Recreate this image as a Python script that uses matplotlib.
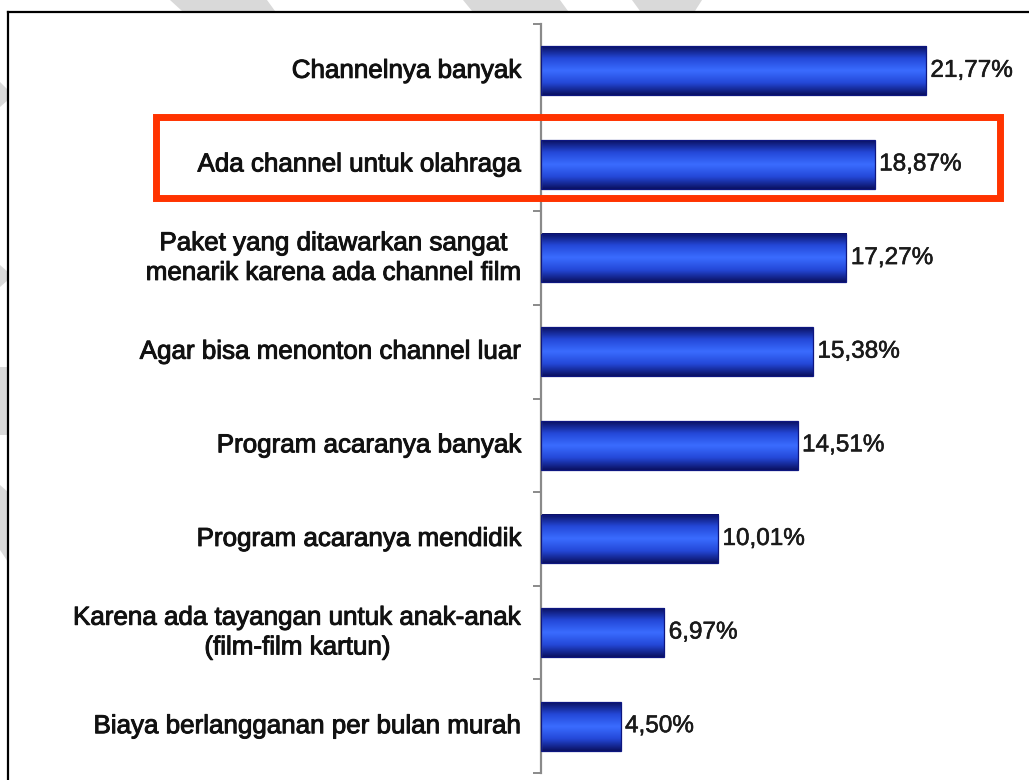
import matplotlib
matplotlib.use("Agg")
import matplotlib.pyplot as plt
import numpy as np
from matplotlib.colors import LinearSegmentedColormap
from matplotlib.patches import Rectangle, Polygon
from matplotlib.lines import Line2D
import matplotlib.patheffects as pe

categories = [
    "Channelnya banyak",
    "Ada channel untuk olahraga",
    "Paket yang ditawarkan sangat\nmenarik karena ada channel film",
    "Agar bisa menonton channel luar",
    "Program acaranya banyak",
    "Program acaranya mendidik",
    "Karena ada tayangan untuk anak-anak\n(film-film kartun)",
    "Biaya berlangganan per bulan murah",
]
values = [21.77, 18.87, 17.27, 15.38, 14.51, 10.01, 6.97, 4.50]
value_labels = ["21,77%", "18,87%", "17,27%", "15,38%", "14,51%", "10,01%", "6,97%", "4,50%"]
highlight_index = 1

W, H = 1029, 780
fig = plt.figure(figsize=(W / 100, H / 100), dpi=100)
fig.patch.set_facecolor("white")

def fx(px):
    return px / W

def fy(py):
    return 1 - py / H

# light grey watermark fragments
grey = "#d9d9d9"
wm_polys = [
    [(170, 0), (267, 0), (275, 11), (182, 11)],
    [(463, 0), (560, 0), (568, 11), (472, 11)],
    [(632, 0), (702, 0), (695, 11), (640, 11)],
    [(0, 82), (8, 90), (8, 100), (0, 107)],
    [(0, 265), (8, 272), (8, 280), (0, 287)],
    [(0, 367), (8, 367), (8, 435), (0, 435)],
    [(0, 485), (8, 492), (8, 562), (0, 550)],
]
for poly in wm_polys:
    fig.patches.append(Polygon([(fx(x), fy(y)) for x, y in poly], closed=True,
                               transform=fig.transFigure, facecolor=grey,
                               edgecolor="none", zorder=0))

# black frame (top and left)
fig.lines.append(Line2D([fx(8), fx(8)], [fy(12), 0], transform=fig.transFigure,
                        color="black", lw=1.6, zorder=1))
fig.lines.append(Line2D([fx(8), 1], [fy(12), fy(12)], transform=fig.transFigure,
                        color="black", lw=1.6, zorder=1))

ax_left, ax_top, ax_bottom, ax_right = 541, 24, 773, 1018
ax = fig.add_axes([fx(ax_left), fy(ax_bottom), fx(ax_right - ax_left),
                   (ax_bottom - ax_top) / H])
ax.set_facecolor("none")

n = len(categories)
xmax = (ax_right - ax_left) / 17.685

cmap = LinearSegmentedColormap.from_list(
    "bar", [(0.0, "#0a1060"), (0.25, "#2448d8"), (0.5, "#3a6cff"),
            (0.75, "#2448d8"), (1.0, "#0a1060")])
grad = np.linspace(0, 1, 256).reshape(-1, 1)
bh = 0.52
for i, v in enumerate(values):
    ax.imshow(grad, cmap=cmap, aspect="auto", interpolation="bicubic",
              extent=(0, v, i + bh / 2, i - bh / 2), zorder=2)
    ax.add_patch(Rectangle((0, i - bh / 2), v, bh, facecolor="none",
                           edgecolor="#0d1680", lw=0.9, zorder=3))
    t = ax.text(v + 0.25, i, value_labels[i], va="center", ha="left",
                fontsize=17.5, family="Liberation Sans", color="#1a1a1a", zorder=4)
    t.set_path_effects([pe.withStroke(linewidth=0.4, foreground="#1a1a1a")])

ax.set_xlim(0, xmax)
ax.set_ylim(n - 0.5, -0.5)

for s in ["top", "right", "bottom"]:
    ax.spines[s].set_visible(False)
ax.spines["left"].set_color("#8a8a8a")
ax.spines["left"].set_linewidth(1.6)
ax.set_xticks([])
ax.set_yticks(np.arange(-0.5, n, 1.0))
ax.set_yticklabels([])
ax.tick_params(axis="y", length=6, width=1.4, color="#8a8a8a", direction="out")

# category labels
for i, c in enumerate(categories):
    t = ax.text(-19 / 17.685, i, c, ha="right", va="center", multialignment="center",
                fontsize=18.7, family="Liberation Sans", color="#111111",
                linespacing=1.3, zorder=4)
    t.set_path_effects([pe.withStroke(linewidth=0.7, foreground="#111111")])

# highlight box
fig.patches.append(Rectangle((fx(156), fy(197.5)), fx(999.5 - 156), (197.5 - 117) / H,
                             transform=fig.transFigure, facecolor="none",
                             edgecolor="#ff3300", lw=5, zorder=5))

fig.savefig("out.png", dpi=100, facecolor="white")
